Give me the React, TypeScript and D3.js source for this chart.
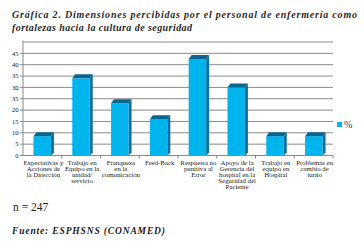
import React from "react";
import * as d3 from "d3";

const categories: string[][] = [
  ["Expectativas y", "Acciones de", "la Dirección"],
  ["Trabajo en", "Equipo en la", "unidad/", "servicio"],
  ["Franqueza", "en la", "comunicación"],
  ["Feed-Back"],
  ["Respuesta no", "punitiva al", "Error"],
  ["Apoyo de la", "Gerencia del", "hospital en la", "Seguridad del", "Paciente"],
  ["Trabajo en", "equipo en", "Hospital"],
  ["Problemas en", "cambio de", "turno"],
];
const values: number[] = [8.5, 34, 23, 16, 42.5, 30, 8.5, 8.5];
const tickValues: number[] = [0, 5, 10, 15, 20, 25, 30, 35, 40, 45];
const tickLabels: string[] = ["0", "5", "10", "15", "20", "35", "30", "35", "40", "45"];
const seriesName = "%";

export default function App() {
  const W = 364, H = 241;
  const x0 = 23, x1 = 333, yTop = 42, yBase = 155.5;
  const y = d3.scaleLinear().domain([0, 50]).range([yBase, yTop]);
  const x = d3.scaleBand().domain(categories.map((_, i) => String(i))).range([x0, x1]).paddingInner(0.55).paddingOuter(0.27);
  const bandAll = d3.scaleBand().domain(categories.map((_, i) => String(i))).range([x0, x1]);
  const dx = 3, dy = 4;
  const serifStyle = { fontFamily: "'Liberation Serif', 'Times New Roman', 'DejaVu Serif', serif" };
  const gridVals = [...tickValues, 50];
  return (
    <svg width={W} height={H} style={{ position: "absolute", left: 0, top: 0, background: "#fff" }}>
      <g style={serifStyle}>
        <text x={12} y={18} fontStyle="italic" fontWeight="bold" fontSize={10} textLength={345} lengthAdjust="spacing" fill="#2a2a2a">
          Gráfica 2. Dimensiones percibidas por el personal de enfermería como
        </text>
        <text x={12} y={30.5} fontStyle="italic" fontWeight="bold" fontSize={10} textLength={180} lengthAdjust="spacing" fill="#2a2a2a">
          fortalezas hacia la cultura de seguridad
        </text>
        {gridVals.map((v) => (
          <line key={"g" + v} x1={x0} x2={x1} y1={y(v)} y2={y(v)} stroke="#8a8a8a" strokeWidth={1} />
        ))}
        <line x1={x0} x2={x0} y1={40.5} y2={yBase + 0.5} stroke="#8a8a8a" strokeWidth={1} />
        {tickValues.map((v, i) => (
          <g key={"t" + v}>
            <line x1={x0 - 3} x2={x0} y1={y(v)} y2={y(v)} stroke="#8a8a8a" />
            <text x={18.5} y={y(v) + 2.2} textAnchor="end" fontSize={6.6} fill="#222">{tickLabels[i]}</text>
          </g>
        ))}
        {categories.map((_, i) => (
          <line key={"ct" + i} x1={(bandAll(String(i)) as number) + bandAll.bandwidth()} x2={(bandAll(String(i)) as number) + bandAll.bandwidth()} y1={yBase} y2={yBase + 3} stroke="#8a8a8a" />
        ))}
        {values.map((v, i) => {
          const bx = x(String(i)) as number;
          const bw = x.bandwidth();
          const yt = y(v);
          return (
            <g key={"b" + i}>
              <polygon points={`${bx + bw},${yt} ${bx + bw + dx},${yt - dy} ${bx + bw + dx},${yBase - dy + 1} ${bx + bw},${yBase}`} fill="#0b6f9f" />
              <rect x={bx} y={yt} width={bw} height={yBase - yt} fill="#00b4ee" />
              <polygon points={`${bx},${yt} ${bx + dx},${yt - dy} ${bx + bw + dx},${yt - dy} ${bx + bw},${yt}`} fill="#0a6591" />
            </g>
          );
        })}
        {categories.map((lines, i) => {
          const cx = (bandAll(String(i)) as number) + bandAll.bandwidth() / 2 + 1;
          return (
            <text key={"l" + i} textAnchor="middle" fontSize={6.8} fill="#222">
              {lines.map((ln, j) => (
                <tspan key={j} x={cx} y={165 + j * 6}>{ln}</tspan>
              ))}
            </text>
          );
        })}
        <rect x={337} y={122} width={5} height={5} fill="#00b4ee" />
        <text x={344} y={128} fontSize={10} fill="#333">{seriesName}</text>
        <text x={13} y={210.5} fontSize={11.5} fill="#222">n = 247</text>
        <text x={12} y={234} fontStyle="italic" fontWeight="bold" fontSize={9.5} textLength={153} lengthAdjust="spacing" fill="#222">Fuente: ESPHSNS (CONAMED)</text>
      </g>
    </svg>
  );
}
